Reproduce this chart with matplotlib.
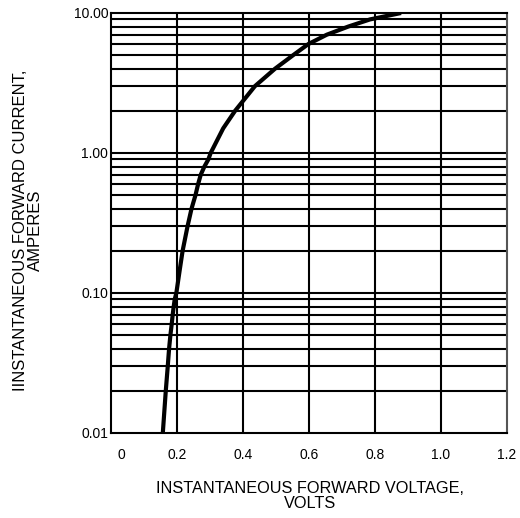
import matplotlib
matplotlib.use("Agg")
import matplotlib.pyplot as plt
import matplotlib.transforms as mtransforms

# forward characteristic
volts = [0.157, 0.166, 0.172, 0.176, 0.180, 0.184, 0.187, 0.190, 0.193, 0.198,
         0.209, 0.217, 0.232, 0.244, 0.256, 0.264, 0.272, 0.283, 0.295, 0.302,
         0.340, 0.376, 0.436, 0.497, 0.552, 0.598, 0.654, 0.719, 0.785, 0.879]
amps = [0.01, 0.02, 0.03, 0.04, 0.05, 0.06, 0.07, 0.08, 0.09, 0.1,
        0.15, 0.2, 0.3, 0.4, 0.5, 0.6, 0.7, 0.8, 0.9, 1.0,
        1.5, 2.0, 3.0, 4.0, 5.0, 6.0, 7.0, 8.0, 9.0, 10.0]

x_ticks = [0, 0.2, 0.4, 0.6, 0.8, 1.0, 1.2]
x_labels = ["0", "0.2", "0.4", "0.6", "0.8", "1.0", "1.2"]
y_ticks = [0.01, 0.1, 1.0, 10.0]
y_labels = ["0.01", "0.10", "1.00", "10.00"]

plt.rcParams["font.family"] = ["Liberation Sans", "DejaVu Sans"]

W, H = 520, 518
fig = plt.figure(figsize=(W / 100, H / 100), dpi=100)
ax = fig.add_axes([111 / W, 1 - 433 / H, 396 / W, 420 / H])

ax.set_yscale("log")
ax.set_xlim(0, 1.2)
ax.set_ylim(0.01, 10)

# grid: every 0.2 V, and 1..9 per decade
for x in x_ticks[1:-1]:
    ax.axvline(x, color="black", lw=1.5, zorder=1)
for dec in [0.01, 0.1, 1.0]:
    for m in range(1, 10):
        v = dec * m
        if 0.01 < v < 10:
            ax.axhline(v, color="black", lw=1.5, zorder=1)

ax.plot(volts, amps, color="black", lw=3, solid_capstyle="butt",
        solid_joinstyle="round", zorder=3)

ax.set_xticks(x_ticks)
ax.set_xticklabels(x_labels, fontsize=10)
ax.set_yticks(y_ticks)
ax.set_yticklabels(y_labels, fontsize=10)
ax.yaxis.set_minor_locator(matplotlib.ticker.NullLocator())
ax.tick_params(axis="both", length=0)
ax.tick_params(axis="y", pad=2)
ax.tick_params(axis="x", pad=11)

# the "0" label sits a little right of the left edge in the reference
lbl0 = ax.get_xticklabels()[0]
lbl0.set_transform(lbl0.get_transform() +
                   mtransforms.ScaledTranslation(10 / 100, 0, fig.dpi_scale_trans))

for s in ax.spines.values():
    s.set_color("black")
    s.set_linewidth(1.5)
ax.spines["right"].set_color("#555555")

fig.text(310 / W, 1 - 496 / H, "INSTANTANEOUS FORWARD VOLTAGE,\nVOLTS",
         ha="center", va="center", fontsize=11.7, linespacing=0.95,
         multialignment="center")
fig.text(28 / W, 1 - 230 / H, "IINSTANTANEOUS FORWARD CURRENT,\nAMPERES",
         ha="center", va="center", rotation=90, fontsize=12, linespacing=1.05,
         multialignment="center")

fig.savefig("out.png", dpi=100)
